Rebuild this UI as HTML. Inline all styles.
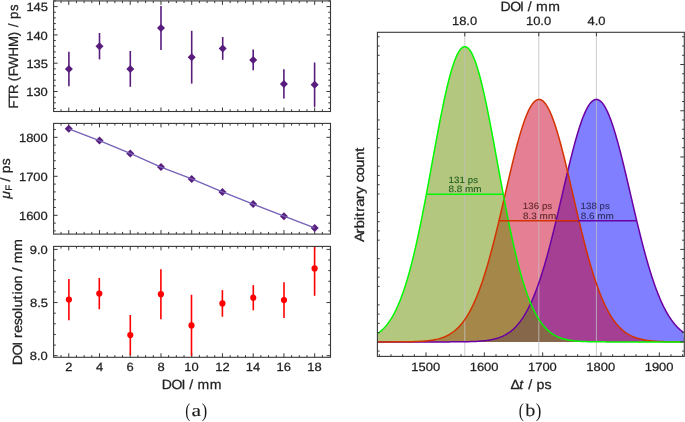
<!DOCTYPE html><html><head><meta charset="utf-8"><style>html,body{margin:0;padding:0;background:#fff;}svg{display:block;will-change:transform;text-rendering:geometricPrecision;font-family:"Liberation Sans",sans-serif;}</style></head><body><svg width="685" height="422" viewBox="0 0 685 422" font-family="Liberation Sans, sans-serif"><rect width="100%" height="100%" fill="#fff"/><path d="M68.75 111.5v-4.0M68.75 0.9v4.0M99.49 111.5v-4.0M99.49 0.9v4.0M130.23 111.5v-4.0M130.23 0.9v4.0M160.97 111.5v-4.0M160.97 0.9v4.0M191.71 111.5v-4.0M191.71 0.9v4.0M222.45 111.5v-4.0M222.45 0.9v4.0M253.19 111.5v-4.0M253.19 0.9v4.0M283.93 111.5v-4.0M283.93 0.9v4.0M314.67 111.5v-4.0M314.67 0.9v4.0M53.6 91.5h4.0M330.5 91.5h-4.0M53.6 63.2h4.0M330.5 63.2h-4.0M53.6 34.9h4.0M330.5 34.9h-4.0M53.6 6.6h4.0M330.5 6.6h-4.0" stroke="#383838" stroke-width="1" fill="none"/><path d="M61.06 111.5v-2.2M61.06 0.9v2.2M76.44 111.5v-2.2M76.44 0.9v2.2M84.12 111.5v-2.2M84.12 0.9v2.2M91.81 111.5v-2.2M91.81 0.9v2.2M107.17 111.5v-2.2M107.17 0.9v2.2M114.86 111.5v-2.2M114.86 0.9v2.2M122.54 111.5v-2.2M122.54 0.9v2.2M137.91 111.5v-2.2M137.91 0.9v2.2M145.6 111.5v-2.2M145.6 0.9v2.2M153.28 111.5v-2.2M153.28 0.9v2.2M168.66 111.5v-2.2M168.66 0.9v2.2M176.34 111.5v-2.2M176.34 0.9v2.2M184.02 111.5v-2.2M184.02 0.9v2.2M199.39 111.5v-2.2M199.39 0.9v2.2M207.08 111.5v-2.2M207.08 0.9v2.2M214.76 111.5v-2.2M214.76 0.9v2.2M230.13 111.5v-2.2M230.13 0.9v2.2M237.82 111.5v-2.2M237.82 0.9v2.2M245.5 111.5v-2.2M245.5 0.9v2.2M260.88 111.5v-2.2M260.88 0.9v2.2M268.56 111.5v-2.2M268.56 0.9v2.2M276.25 111.5v-2.2M276.25 0.9v2.2M291.62 111.5v-2.2M291.62 0.9v2.2M299.3 111.5v-2.2M299.3 0.9v2.2M306.99 111.5v-2.2M306.99 0.9v2.2M322.36 111.5v-2.2M322.36 0.9v2.2M53.6 108.48h2.2M330.5 108.48h-2.2M53.6 102.82h2.2M330.5 102.82h-2.2M53.6 97.16h2.2M330.5 97.16h-2.2M53.6 85.84h2.2M330.5 85.84h-2.2M53.6 80.18h2.2M330.5 80.18h-2.2M53.6 74.52h2.2M330.5 74.52h-2.2M53.6 68.86h2.2M330.5 68.86h-2.2M53.6 57.54h2.2M330.5 57.54h-2.2M53.6 51.88h2.2M330.5 51.88h-2.2M53.6 46.22h2.2M330.5 46.22h-2.2M53.6 40.56h2.2M330.5 40.56h-2.2M53.6 29.24h2.2M330.5 29.24h-2.2M53.6 23.58h2.2M330.5 23.58h-2.2M53.6 17.92h2.2M330.5 17.92h-2.2M53.6 12.26h2.2M330.5 12.26h-2.2M53.6 0.94h2.2M330.5 0.94h-2.2" stroke="#383838" stroke-width="1" fill="none"/>
<text font-size="11.97" fill="#222222" stroke="#222222" stroke-width="0.25" transform="translate(26.19 96.11) scale(1.0796 1)"><tspan x="0 6.66 13.32" y="0">130</tspan></text>
<text font-size="11.97" fill="#222222" stroke="#222222" stroke-width="0.25" transform="translate(26.42 67.81) scale(1.0796 1)"><tspan x="0 6.66 13.32" y="0">135</tspan></text>
<text font-size="11.97" fill="#222222" stroke="#222222" stroke-width="0.25" transform="translate(26.19 39.51) scale(1.0796 1)"><tspan x="0 6.66 13.32" y="0">140</tspan></text>
<text font-size="11.97" fill="#222222" stroke="#222222" stroke-width="0.25" transform="translate(26.42 11.14) scale(1.0796 1)"><tspan x="0 6.66 13.32" y="0">145</tspan></text>
<text font-size="13.35" fill="#222222" stroke="#222222" stroke-width="0.25" transform="translate(17.6 108.6) rotate(-90) scale(0.9894 1)"><tspan x="0 7.33 14.88 23.73 27.78 32.75 40.07 52.66 62.24 73.23 78.2 82.24 86.53 90.58 98.67" y="0">FTR (FWHM) / ps</tspan></text>
<path d="M68.9 51.8V86.2" stroke="#581c7c" stroke-width="1.6"/>
<path d="M99.5 33V59.4" stroke="#581c7c" stroke-width="1.6"/>
<path d="M130.3 51V86.8" stroke="#581c7c" stroke-width="1.6"/>
<path d="M161 5.9V49.9" stroke="#581c7c" stroke-width="1.6"/>
<path d="M191.7 30.8V83.6" stroke="#581c7c" stroke-width="1.6"/>
<path d="M222.7 37V59.8" stroke="#581c7c" stroke-width="1.6"/>
<path d="M253.2 49.5V70.3" stroke="#581c7c" stroke-width="1.6"/>
<path d="M283.9 69.3V98.5" stroke="#581c7c" stroke-width="1.6"/>
<path d="M314.6 62.5V106.9" stroke="#581c7c" stroke-width="1.6"/>
<path d="M68.9 65l4.0 4.0l-4.0 4.0l-4.0 -4.0z" fill="#581c7c"/>
<path d="M99.5 42.2l4.0 4.0l-4.0 4.0l-4.0 -4.0z" fill="#581c7c"/>
<path d="M130.3 64.9l4.0 4.0l-4.0 4.0l-4.0 -4.0z" fill="#581c7c"/>
<path d="M161 23.9l4.0 4.0l-4.0 4.0l-4.0 -4.0z" fill="#581c7c"/>
<path d="M191.7 53.2l4.0 4.0l-4.0 4.0l-4.0 -4.0z" fill="#581c7c"/>
<path d="M222.7 44.4l4.0 4.0l-4.0 4.0l-4.0 -4.0z" fill="#581c7c"/>
<path d="M253.2 55.9l4.0 4.0l-4.0 4.0l-4.0 -4.0z" fill="#581c7c"/>
<path d="M283.9 79.9l4.0 4.0l-4.0 4.0l-4.0 -4.0z" fill="#581c7c"/>
<path d="M314.6 80.7l4.0 4.0l-4.0 4.0l-4.0 -4.0z" fill="#581c7c"/>
<path d="M68.75 234.1v-4.0M68.75 123.4v4.0M99.49 234.1v-4.0M99.49 123.4v4.0M130.23 234.1v-4.0M130.23 123.4v4.0M160.97 234.1v-4.0M160.97 123.4v4.0M191.71 234.1v-4.0M191.71 123.4v4.0M222.45 234.1v-4.0M222.45 123.4v4.0M253.19 234.1v-4.0M253.19 123.4v4.0M283.93 234.1v-4.0M283.93 123.4v4.0M314.67 234.1v-4.0M314.67 123.4v4.0M53.6 215.3h4.0M330.5 215.3h-4.0M53.6 176.3h4.0M330.5 176.3h-4.0M53.6 137.3h4.0M330.5 137.3h-4.0" stroke="#383838" stroke-width="1" fill="none"/><path d="M61.06 234.1v-2.2M61.06 123.4v2.2M76.44 234.1v-2.2M76.44 123.4v2.2M84.12 234.1v-2.2M84.12 123.4v2.2M91.81 234.1v-2.2M91.81 123.4v2.2M107.17 234.1v-2.2M107.17 123.4v2.2M114.86 234.1v-2.2M114.86 123.4v2.2M122.54 234.1v-2.2M122.54 123.4v2.2M137.91 234.1v-2.2M137.91 123.4v2.2M145.6 234.1v-2.2M145.6 123.4v2.2M153.28 234.1v-2.2M153.28 123.4v2.2M168.66 234.1v-2.2M168.66 123.4v2.2M176.34 234.1v-2.2M176.34 123.4v2.2M184.02 234.1v-2.2M184.02 123.4v2.2M199.39 234.1v-2.2M199.39 123.4v2.2M207.08 234.1v-2.2M207.08 123.4v2.2M214.76 234.1v-2.2M214.76 123.4v2.2M230.13 234.1v-2.2M230.13 123.4v2.2M237.82 234.1v-2.2M237.82 123.4v2.2M245.5 234.1v-2.2M245.5 123.4v2.2M260.88 234.1v-2.2M260.88 123.4v2.2M268.56 234.1v-2.2M268.56 123.4v2.2M276.25 234.1v-2.2M276.25 123.4v2.2M291.62 234.1v-2.2M291.62 123.4v2.2M299.3 234.1v-2.2M299.3 123.4v2.2M306.99 234.1v-2.2M306.99 123.4v2.2M322.36 234.1v-2.2M322.36 123.4v2.2M53.6 230.9h2.2M330.5 230.9h-2.2M53.6 223.1h2.2M330.5 223.1h-2.2M53.6 207.5h2.2M330.5 207.5h-2.2M53.6 199.7h2.2M330.5 199.7h-2.2M53.6 191.9h2.2M330.5 191.9h-2.2M53.6 184.1h2.2M330.5 184.1h-2.2M53.6 168.5h2.2M330.5 168.5h-2.2M53.6 160.7h2.2M330.5 160.7h-2.2M53.6 152.9h2.2M330.5 152.9h-2.2M53.6 145.1h2.2M330.5 145.1h-2.2M53.6 129.5h2.2M330.5 129.5h-2.2" stroke="#383838" stroke-width="1" fill="none"/>
<text font-size="11.97" fill="#222222" stroke="#222222" stroke-width="0.25" transform="translate(18.99 219.91) scale(1.0796 1)"><tspan x="0 6.66 13.32 19.98" y="0">1600</tspan></text>
<text font-size="11.97" fill="#222222" stroke="#222222" stroke-width="0.25" transform="translate(18.99 180.91) scale(1.0796 1)"><tspan x="0 6.66 13.32 19.98" y="0">1700</tspan></text>
<text font-size="11.97" fill="#222222" stroke="#222222" stroke-width="0.25" transform="translate(18.99 141.91) scale(1.0796 1)"><tspan x="0 6.66 13.32 19.98" y="0">1800</tspan></text>
<path d="M68.75 124.8l4.0 4.0l-4.0 4.0l-4.0 -4.0z" fill="#581c7c"/>
<path d="M99.49 136.6l4.0 4.0l-4.0 4.0l-4.0 -4.0z" fill="#581c7c"/>
<path d="M130.23 149.4l4.0 4.0l-4.0 4.0l-4.0 -4.0z" fill="#581c7c"/>
<path d="M160.97 163.1l4.0 4.0l-4.0 4.0l-4.0 -4.0z" fill="#581c7c"/>
<path d="M191.71 174.9l4.0 4.0l-4.0 4.0l-4.0 -4.0z" fill="#581c7c"/>
<path d="M222.45 187.9l4.0 4.0l-4.0 4.0l-4.0 -4.0z" fill="#581c7c"/>
<path d="M253.19 200.1l4.0 4.0l-4.0 4.0l-4.0 -4.0z" fill="#581c7c"/>
<path d="M283.93 212.2l4.0 4.0l-4.0 4.0l-4.0 -4.0z" fill="#581c7c"/>
<path d="M314.67 223.9l4.0 4.0l-4.0 4.0l-4.0 -4.0z" fill="#581c7c"/>
<polyline points="68.75,128.8 99.49,140.6 130.23,153.4 160.97,167.1 191.71,178.9 222.45,191.9 253.19,204.1 283.93,216.2 314.67,227.9" fill="none" stroke="#7662b8" stroke-width="1.4"/>
<text font-size="13.35" fill="#222222" stroke="#222222" stroke-width="0.25" transform="translate(10.2 198.7) rotate(-90) scale(1.0433 1)"><tspan x="0" y="0" font-style="italic">μ</tspan><tspan x="7.68" y="2.2" font-size="9.35">F</tspan><tspan x="12.55 16.39 20.45 24.29 31.96" y="0"> / ps</tspan></text>
<path d="M68.75 357.3v-4.0M68.75 246.4v4.0M99.49 357.3v-4.0M99.49 246.4v4.0M130.23 357.3v-4.0M130.23 246.4v4.0M160.97 357.3v-4.0M160.97 246.4v4.0M191.71 357.3v-4.0M191.71 246.4v4.0M222.45 357.3v-4.0M222.45 246.4v4.0M253.19 357.3v-4.0M253.19 246.4v4.0M283.93 357.3v-4.0M283.93 246.4v4.0M314.67 357.3v-4.0M314.67 246.4v4.0M53.6 355.7h4.0M330.5 355.7h-4.0M53.6 302.55h4.0M330.5 302.55h-4.0M53.6 249.4h4.0M330.5 249.4h-4.0" stroke="#383838" stroke-width="1" fill="none"/><path d="M61.06 357.3v-2.2M61.06 246.4v2.2M76.44 357.3v-2.2M76.44 246.4v2.2M84.12 357.3v-2.2M84.12 246.4v2.2M91.81 357.3v-2.2M91.81 246.4v2.2M107.17 357.3v-2.2M107.17 246.4v2.2M114.86 357.3v-2.2M114.86 246.4v2.2M122.54 357.3v-2.2M122.54 246.4v2.2M137.91 357.3v-2.2M137.91 246.4v2.2M145.6 357.3v-2.2M145.6 246.4v2.2M153.28 357.3v-2.2M153.28 246.4v2.2M168.66 357.3v-2.2M168.66 246.4v2.2M176.34 357.3v-2.2M176.34 246.4v2.2M184.02 357.3v-2.2M184.02 246.4v2.2M199.39 357.3v-2.2M199.39 246.4v2.2M207.08 357.3v-2.2M207.08 246.4v2.2M214.76 357.3v-2.2M214.76 246.4v2.2M230.13 357.3v-2.2M230.13 246.4v2.2M237.82 357.3v-2.2M237.82 246.4v2.2M245.5 357.3v-2.2M245.5 246.4v2.2M260.88 357.3v-2.2M260.88 246.4v2.2M268.56 357.3v-2.2M268.56 246.4v2.2M276.25 357.3v-2.2M276.25 246.4v2.2M291.62 357.3v-2.2M291.62 246.4v2.2M299.3 357.3v-2.2M299.3 246.4v2.2M306.99 357.3v-2.2M306.99 246.4v2.2M322.36 357.3v-2.2M322.36 246.4v2.2M53.6 345.07h2.2M330.5 345.07h-2.2M53.6 334.44h2.2M330.5 334.44h-2.2M53.6 323.81h2.2M330.5 323.81h-2.2M53.6 313.18h2.2M330.5 313.18h-2.2M53.6 291.92h2.2M330.5 291.92h-2.2M53.6 281.29h2.2M330.5 281.29h-2.2M53.6 270.66h2.2M330.5 270.66h-2.2M53.6 260.03h2.2M330.5 260.03h-2.2" stroke="#383838" stroke-width="1" fill="none"/>
<text font-size="11.97" fill="#222222" stroke="#222222" stroke-width="0.25" transform="translate(29.78 360.31) scale(1.0797 1)"><tspan x="0 6.66 9.99" y="0">8.0</tspan></text>
<text font-size="11.97" fill="#222222" stroke="#222222" stroke-width="0.25" transform="translate(30.02 307.16) scale(1.0797 1)"><tspan x="0 6.66 9.99" y="0">8.5</tspan></text>
<text font-size="11.97" fill="#222222" stroke="#222222" stroke-width="0.25" transform="translate(29.78 254.01) scale(1.0797 1)"><tspan x="0 6.66 9.99" y="0">9.0</tspan></text>
<text font-size="11.97" fill="#222222" stroke="#222222" stroke-width="0.25" transform="translate(65.31 371.38) scale(1.0796 1)"><tspan x="0" y="0">2</tspan></text>
<text font-size="11.97" fill="#222222" stroke="#222222" stroke-width="0.25" transform="translate(95.94 371.24) scale(1.0796 1)"><tspan x="0" y="0">4</tspan></text>
<text font-size="11.97" fill="#222222" stroke="#222222" stroke-width="0.25" transform="translate(126.6 371.38) scale(1.0796 1)"><tspan x="0" y="0">6</tspan></text>
<text font-size="11.97" fill="#222222" stroke="#222222" stroke-width="0.25" transform="translate(157.38 371.38) scale(1.0796 1)"><tspan x="0" y="0">8</tspan></text>
<text font-size="11.97" fill="#222222" stroke="#222222" stroke-width="0.25" transform="translate(184.27 371.38) scale(1.0796 1)"><tspan x="0 6.66" y="0">10</tspan></text>
<text font-size="11.97" fill="#222222" stroke="#222222" stroke-width="0.25" transform="translate(215.21 371.38) scale(1.0796 1)"><tspan x="0 6.66" y="0">12</tspan></text>
<text font-size="11.97" fill="#222222" stroke="#222222" stroke-width="0.25" transform="translate(245.7 371.24) scale(1.0796 1)"><tspan x="0 6.66" y="0">14</tspan></text>
<text font-size="11.97" fill="#222222" stroke="#222222" stroke-width="0.25" transform="translate(276.48 371.38) scale(1.0796 1)"><tspan x="0 6.66" y="0">16</tspan></text>
<text font-size="11.97" fill="#222222" stroke="#222222" stroke-width="0.25" transform="translate(307.25 371.38) scale(1.0796 1)"><tspan x="0 6.66" y="0">18</tspan></text>
<text font-size="13.35" fill="#222222" stroke="#222222" stroke-width="0.25" transform="translate(21.6 365.28) rotate(-90) scale(1.0673 1)"><tspan x="0 9.09 18.38 21.86 25.62 30.47 37.47 43.62 50.85 54.13 61.61 66.24 69.52 76.74 84.22 87.97 91.95 95.7 107.2" y="0">DOI resolution / mm</tspan></text>
<text font-size="13.35" fill="#222222" stroke="#222222" stroke-width="0.25" transform="translate(161.85 389.35) scale(1.0531 1)"><tspan x="0 9.21 18.63 22.16 25.96 29.99 33.8 45.45" y="0">DOI / mm</tspan></text>
<path d="M68.9 279V320.2" stroke="#ff0000" stroke-width="1.6"/>
<path d="M99.3 278V309.2" stroke="#ff0000" stroke-width="1.6"/>
<path d="M130.3 315V355.2" stroke="#ff0000" stroke-width="1.6"/>
<path d="M160.9 269.2V319.2" stroke="#ff0000" stroke-width="1.6"/>
<path d="M191.5 294.8V356" stroke="#ff0000" stroke-width="1.6"/>
<path d="M222.4 290.1V316.7" stroke="#ff0000" stroke-width="1.6"/>
<path d="M253.3 285.1V310.3" stroke="#ff0000" stroke-width="1.6"/>
<path d="M284 282.3V317.9" stroke="#ff0000" stroke-width="1.6"/>
<path d="M314.6 246.4V295.8" stroke="#ff0000" stroke-width="1.6"/>
<circle cx="68.9" cy="299.6" r="3.1" fill="#ff0000"/>
<circle cx="99.3" cy="293.6" r="3.1" fill="#ff0000"/>
<circle cx="130.3" cy="335.1" r="3.1" fill="#ff0000"/>
<circle cx="160.9" cy="294.2" r="3.1" fill="#ff0000"/>
<circle cx="191.5" cy="325.4" r="3.1" fill="#ff0000"/>
<circle cx="222.4" cy="303.4" r="3.1" fill="#ff0000"/>
<circle cx="253.3" cy="297.7" r="3.1" fill="#ff0000"/>
<circle cx="284" cy="300.1" r="3.1" fill="#ff0000"/>
<circle cx="314.6" cy="268.4" r="3.1" fill="#ff0000"/>
<rect x="53.6" y="0.9" width="276.9" height="110.6" fill="none" stroke="#383838" stroke-width="1.1"/>
<rect x="53.6" y="123.4" width="276.9" height="110.7" fill="none" stroke="#383838" stroke-width="1.1"/>
<rect x="53.6" y="246.4" width="276.9" height="110.9" fill="none" stroke="#383838" stroke-width="1.1"/>
<defs><clipPath id="cr"><rect x="377.4" y="32.3" width="306.9" height="324.1"/></clipPath></defs>
<g clip-path="url(#cr)">
<path d="M377.4 341.9L377.4 341.9L378.4 341.9L379.4 341.9L380.4 341.9L381.4 341.9L382.4 341.9L383.4 341.9L384.4 341.9L385.4 341.9L386.4 341.9L387.4 341.9L388.4 341.9L389.4 341.9L390.4 341.9L391.4 341.9L392.4 341.9L393.4 341.9L394.4 341.9L395.4 341.9L396.4 341.9L397.4 341.9L398.4 341.9L399.4 341.9L400.4 341.9L401.4 341.9L402.4 341.9L403.4 341.9L404.4 341.9L405.4 341.9L406.4 341.9L407.4 341.9L408.4 341.9L409.4 341.9L410.4 341.9L411.4 341.9L412.4 341.9L413.4 341.9L414.4 341.9L415.4 341.9L416.4 341.9L417.4 341.9L418.4 341.9L419.4 341.9L420.4 341.9L421.4 341.9L422.4 341.9L423.4 341.9L424.4 341.9L425.4 341.9L426.4 341.9L427.4 341.9L428.4 341.9L429.4 341.9L430.4 341.9L431.4 341.9L432.4 341.9L433.4 341.9L434.4 341.9L435.4 341.9L436.4 341.9L437.4 341.9L438.4 341.89L439.4 341.89L440.4 341.89L441.4 341.89L442.4 341.89L443.4 341.89L444.4 341.89L445.4 341.89L446.4 341.88L447.4 341.88L448.4 341.88L449.4 341.88L450.4 341.87L451.4 341.87L452.4 341.87L453.4 341.86L454.4 341.86L455.4 341.85L456.4 341.84L457.4 341.84L458.4 341.83L459.4 341.82L460.4 341.81L461.4 341.8L462.4 341.79L463.4 341.77L464.4 341.76L465.4 341.74L466.4 341.72L467.4 341.7L468.4 341.68L469.4 341.65L470.4 341.62L471.4 341.59L472.4 341.56L473.4 341.52L474.4 341.48L475.4 341.43L476.4 341.38L477.4 341.32L478.4 341.26L479.4 341.2L480.4 341.12L481.4 341.04L482.4 340.95L483.4 340.86L484.4 340.75L485.4 340.64L486.4 340.51L487.4 340.38L488.4 340.23L489.4 340.07L490.4 339.9L491.4 339.71L492.4 339.5L493.4 339.28L494.4 339.04L495.4 338.78L496.4 338.5L497.4 338.2L498.4 337.88L499.4 337.53L500.4 337.15L501.4 336.75L502.4 336.32L503.4 335.85L504.4 335.36L505.4 334.82L506.4 334.26L507.4 333.65L508.4 333L509.4 332.31L510.4 331.58L511.4 330.79L512.4 329.96L513.4 329.08L514.4 328.15L515.4 327.16L516.4 326.11L517.4 325L518.4 323.83L519.4 322.59L520.4 321.29L521.4 319.92L522.4 318.47L523.4 316.96L524.4 315.36L525.4 313.69L526.4 311.94L527.4 310.11L528.4 308.2L529.4 306.2L530.4 304.12L531.4 301.94L532.4 299.68L533.4 297.33L534.4 294.89L535.4 292.35L536.4 289.73L537.4 287.01L538.4 284.2L539.4 281.3L540.4 278.3L541.4 275.22L542.4 272.04L543.4 268.78L544.4 265.43L545.4 261.99L546.4 258.47L547.4 254.87L548.4 251.19L549.4 247.44L550.4 243.61L551.4 239.72L552.4 235.76L553.4 231.75L554.4 227.68L555.4 223.56L556.4 219.4L557.4 215.2L558.4 210.96L559.4 206.7L560.4 202.43L561.4 198.13L562.4 193.84L563.4 189.54L564.4 185.26L565.4 180.99L566.4 176.74L567.4 172.53L568.4 168.36L569.4 164.24L570.4 160.18L571.4 156.18L572.4 152.25L573.4 148.41L574.4 144.66L575.4 141L576.4 137.46L577.4 134.03L578.4 130.72L579.4 127.54L580.4 124.5L581.4 121.6L582.4 118.86L583.4 116.28L584.4 113.85L585.4 111.61L586.4 109.53L587.4 107.64L588.4 105.93L589.4 104.42L590.4 103.1L591.4 101.97L592.4 101.05L593.4 100.33L594.4 99.81L595.4 99.5L596.4 99.4L597.4 99.5L598.4 99.81L599.4 100.33L600.4 101.05L601.4 101.97L602.4 103.1L603.4 104.42L604.4 105.93L605.4 107.64L606.4 109.53L607.4 111.61L608.4 113.85L609.4 116.28L610.4 118.86L611.4 121.6L612.4 124.5L613.4 127.54L614.4 130.72L615.4 134.03L616.4 137.46L617.4 141L618.4 144.66L619.4 148.41L620.4 152.25L621.4 156.18L622.4 160.18L623.4 164.24L624.4 168.36L625.4 172.53L626.4 176.74L627.4 180.99L628.4 185.26L629.4 189.54L630.4 193.84L631.4 198.13L632.4 202.43L633.4 206.7L634.4 210.96L635.4 215.2L636.4 219.4L637.4 223.56L638.4 227.68L639.4 231.75L640.4 235.76L641.4 239.72L642.4 243.61L643.4 247.44L644.4 251.19L645.4 254.87L646.4 258.47L647.4 261.99L648.4 265.43L649.4 268.78L650.4 272.04L651.4 275.22L652.4 278.3L653.4 281.3L654.4 284.2L655.4 287.01L656.4 289.73L657.4 292.35L658.4 294.89L659.4 297.33L660.4 299.68L661.4 301.94L662.4 304.12L663.4 306.2L664.4 308.2L665.4 310.11L666.4 311.94L667.4 313.69L668.4 315.36L669.4 316.96L670.4 318.47L671.4 319.92L672.4 321.29L673.4 322.59L674.4 323.83L675.4 325L676.4 326.11L677.4 327.16L678.4 328.15L679.4 329.08L680.4 329.96L681.4 330.79L682.4 331.58L683.4 332.31L684.3 341.9Z" fill="rgba(0,0,255,0.5)"/>
<path d="M377.4 341.9L377.4 341.9L378.4 341.9L379.4 341.9L380.4 341.9L381.4 341.89L382.4 341.89L383.4 341.89L384.4 341.89L385.4 341.89L386.4 341.89L387.4 341.89L388.4 341.89L389.4 341.89L390.4 341.88L391.4 341.88L392.4 341.88L393.4 341.88L394.4 341.87L395.4 341.87L396.4 341.86L397.4 341.86L398.4 341.85L399.4 341.85L400.4 341.84L401.4 341.83L402.4 341.83L403.4 341.82L404.4 341.81L405.4 341.79L406.4 341.78L407.4 341.77L408.4 341.75L409.4 341.73L410.4 341.71L411.4 341.69L412.4 341.67L413.4 341.64L414.4 341.61L415.4 341.58L416.4 341.54L417.4 341.5L418.4 341.46L419.4 341.41L420.4 341.35L421.4 341.29L422.4 341.23L423.4 341.16L424.4 341.08L425.4 340.99L426.4 340.9L427.4 340.8L428.4 340.69L429.4 340.57L430.4 340.44L431.4 340.29L432.4 340.14L433.4 339.97L434.4 339.78L435.4 339.58L436.4 339.36L437.4 339.13L438.4 338.88L439.4 338.6L440.4 338.31L441.4 337.99L442.4 337.64L443.4 337.27L444.4 336.88L445.4 336.45L446.4 335.99L447.4 335.5L448.4 334.98L449.4 334.41L450.4 333.81L451.4 333.17L452.4 332.49L453.4 331.76L454.4 330.98L455.4 330.16L456.4 329.28L457.4 328.35L458.4 327.36L459.4 326.32L460.4 325.21L461.4 324.05L462.4 322.81L463.4 321.51L464.4 320.14L465.4 318.7L466.4 317.18L467.4 315.59L468.4 313.91L469.4 312.16L470.4 310.33L471.4 308.41L472.4 306.4L473.4 304.31L474.4 302.13L475.4 299.86L476.4 297.5L477.4 295.04L478.4 292.49L479.4 289.85L480.4 287.12L481.4 284.29L482.4 281.37L483.4 278.35L484.4 275.25L485.4 272.05L486.4 268.76L487.4 265.38L488.4 261.92L489.4 258.37L490.4 254.74L491.4 251.03L492.4 247.24L493.4 243.39L494.4 239.46L495.4 235.47L496.4 231.42L497.4 227.32L498.4 223.16L499.4 218.97L500.4 214.73L501.4 210.46L502.4 206.17L503.4 201.86L504.4 197.53L505.4 193.2L506.4 188.88L507.4 184.56L508.4 180.26L509.4 175.99L510.4 171.76L511.4 167.56L512.4 163.42L513.4 159.34L514.4 155.32L515.4 151.39L516.4 147.54L517.4 143.78L518.4 140.12L519.4 136.58L520.4 133.15L521.4 129.85L522.4 126.69L523.4 123.66L524.4 120.79L525.4 118.07L526.4 115.52L527.4 113.13L528.4 110.92L529.4 108.89L530.4 107.05L531.4 105.39L532.4 103.93L533.4 102.67L534.4 101.61L535.4 100.76L536.4 100.11L537.4 99.67L538.4 99.44L539.4 99.42L540.4 99.61L541.4 100L542.4 100.61L543.4 101.43L544.4 102.44L545.4 103.67L546.4 105.09L547.4 106.7L548.4 108.51L549.4 110.5L550.4 112.68L551.4 115.03L552.4 117.55L553.4 120.23L554.4 123.08L555.4 126.07L556.4 129.21L557.4 132.48L558.4 135.88L559.4 139.41L560.4 143.04L561.4 146.78L562.4 150.61L563.4 154.53L564.4 158.53L565.4 162.6L566.4 166.73L567.4 170.91L568.4 175.14L569.4 179.41L570.4 183.7L571.4 188.01L572.4 192.34L573.4 196.67L574.4 200.99L575.4 205.31L576.4 209.6L577.4 213.88L578.4 218.12L579.4 222.33L580.4 226.49L581.4 230.61L582.4 234.67L583.4 238.67L584.4 242.61L585.4 246.48L586.4 250.28L587.4 254L588.4 257.65L589.4 261.21L590.4 264.7L591.4 268.09L592.4 271.4L593.4 274.61L594.4 277.74L595.4 280.77L596.4 283.71L597.4 286.56L598.4 289.31L599.4 291.97L600.4 294.54L601.4 297.01L602.4 299.39L603.4 301.68L604.4 303.88L605.4 305.99L606.4 308.01L607.4 309.95L608.4 311.8L609.4 313.57L610.4 315.26L611.4 316.87L612.4 318.4L613.4 319.86L614.4 321.24L615.4 322.56L616.4 323.8L617.4 324.98L618.4 326.1L619.4 327.16L620.4 328.16L621.4 329.1L622.4 329.99L623.4 330.82L624.4 331.61L625.4 332.35L626.4 333.04L627.4 333.69L628.4 334.3L629.4 334.87L630.4 335.4L631.4 335.9L632.4 336.36L633.4 336.79L634.4 337.2L635.4 337.57L636.4 337.92L637.4 338.24L638.4 338.54L639.4 338.82L640.4 339.08L641.4 339.32L642.4 339.54L643.4 339.74L644.4 339.93L645.4 340.1L646.4 340.26L647.4 340.41L648.4 340.54L649.4 340.67L650.4 340.78L651.4 340.88L652.4 340.98L653.4 341.06L654.4 341.14L655.4 341.22L656.4 341.28L657.4 341.34L658.4 341.4L659.4 341.45L660.4 341.49L661.4 341.53L662.4 341.57L663.4 341.6L664.4 341.63L665.4 341.66L666.4 341.69L667.4 341.71L668.4 341.73L669.4 341.75L670.4 341.76L671.4 341.78L672.4 341.79L673.4 341.8L674.4 341.81L675.4 341.82L676.4 341.83L677.4 341.84L678.4 341.85L679.4 341.85L680.4 341.86L681.4 341.86L682.4 341.87L683.4 341.87L684.3 341.9Z" fill="rgba(203,0,41,0.5)"/>
<path d="M377.4 341.9L377.4 333.68L378.4 332.99L379.4 332.24L380.4 331.44L381.4 330.58L382.4 329.67L383.4 328.69L384.4 327.65L385.4 326.54L386.4 325.36L387.4 324.11L388.4 322.77L389.4 321.36L390.4 319.87L391.4 318.29L392.4 316.62L393.4 314.86L394.4 313L395.4 311.04L396.4 308.98L397.4 306.81L398.4 304.54L399.4 302.16L400.4 299.67L401.4 297.06L402.4 294.34L403.4 291.49L404.4 288.53L405.4 285.45L406.4 282.24L407.4 278.91L408.4 275.46L409.4 271.89L410.4 268.19L411.4 264.37L412.4 260.42L413.4 256.36L414.4 252.18L415.4 247.88L416.4 243.47L417.4 238.95L418.4 234.32L419.4 229.59L420.4 224.76L421.4 219.84L422.4 214.83L423.4 209.73L424.4 204.57L425.4 199.33L426.4 194.03L427.4 188.68L428.4 183.29L429.4 177.86L430.4 172.4L431.4 166.93L432.4 161.45L433.4 155.97L434.4 150.5L435.4 145.06L436.4 139.65L437.4 134.29L438.4 128.99L439.4 123.75L440.4 118.6L441.4 113.54L442.4 108.58L443.4 103.74L444.4 99.03L445.4 94.45L446.4 90.03L447.4 85.77L448.4 81.67L449.4 77.76L450.4 74.05L451.4 70.53L452.4 67.23L453.4 64.15L454.4 61.3L455.4 58.68L456.4 56.31L457.4 54.18L458.4 52.31L459.4 50.71L460.4 49.37L461.4 48.3L462.4 47.5L463.4 46.97L464.4 46.72L465.4 46.75L466.4 47.05L467.4 47.63L468.4 48.49L469.4 49.61L470.4 51.01L471.4 52.67L472.4 54.59L473.4 56.76L474.4 59.18L475.4 61.85L476.4 64.75L477.4 67.88L478.4 71.22L479.4 74.78L480.4 78.53L481.4 82.48L482.4 86.6L483.4 90.9L484.4 95.36L485.4 99.96L486.4 104.7L487.4 109.56L488.4 114.54L489.4 119.62L490.4 124.79L491.4 130.04L492.4 135.36L493.4 140.73L494.4 146.14L495.4 151.59L496.4 157.06L497.4 162.54L498.4 168.02L499.4 173.5L500.4 178.95L501.4 184.37L502.4 189.76L503.4 195.1L504.4 200.38L505.4 205.61L506.4 210.76L507.4 215.83L508.4 220.83L509.4 225.73L510.4 230.54L511.4 235.25L512.4 239.86L513.4 244.36L514.4 248.75L515.4 253.02L516.4 257.18L517.4 261.22L518.4 265.14L519.4 268.94L520.4 272.61L521.4 276.16L522.4 279.59L523.4 282.89L524.4 286.07L525.4 289.13L526.4 292.07L527.4 294.89L528.4 297.59L529.4 300.18L530.4 302.65L531.4 305.01L532.4 307.26L533.4 309.4L534.4 311.44L535.4 313.38L536.4 315.22L537.4 316.96L538.4 318.61L539.4 320.18L540.4 321.65L541.4 323.05L542.4 324.36L543.4 325.6L544.4 326.77L545.4 327.86L546.4 328.89L547.4 329.85L548.4 330.76L549.4 331.6L550.4 332.39L551.4 333.13L552.4 333.82L553.4 334.46L554.4 335.05L555.4 335.61L556.4 336.12L557.4 336.6L558.4 337.04L559.4 337.45L560.4 337.83L561.4 338.18L562.4 338.51L563.4 338.81L564.4 339.08L565.4 339.33L566.4 339.57L567.4 339.78L568.4 339.97L569.4 340.15L570.4 340.32L571.4 340.47L572.4 340.6L573.4 340.73L574.4 340.84L575.4 340.95L576.4 341.04L577.4 341.13L578.4 341.2L579.4 341.27L580.4 341.34L581.4 341.4L582.4 341.45L583.4 341.5L584.4 341.54L585.4 341.58L586.4 341.61L587.4 341.64L588.4 341.67L589.4 341.7L590.4 341.72L591.4 341.74L592.4 341.76L593.4 341.77L594.4 341.79L595.4 341.8L596.4 341.81L597.4 341.82L598.4 341.83L599.4 341.84L600.4 341.85L601.4 341.85L602.4 341.86L603.4 341.86L604.4 341.87L605.4 341.87L606.4 341.88L607.4 341.88L608.4 341.88L609.4 341.88L610.4 341.89L611.4 341.89L612.4 341.89L613.4 341.89L614.4 341.89L615.4 341.89L616.4 341.89L617.4 341.89L618.4 341.9L619.4 341.9L620.4 341.9L621.4 341.9L622.4 341.9L623.4 341.9L624.4 341.9L625.4 341.9L626.4 341.9L627.4 341.9L628.4 341.9L629.4 341.9L630.4 341.9L631.4 341.9L632.4 341.9L633.4 341.9L634.4 341.9L635.4 341.9L636.4 341.9L637.4 341.9L638.4 341.9L639.4 341.9L640.4 341.9L641.4 341.9L642.4 341.9L643.4 341.9L644.4 341.9L645.4 341.9L646.4 341.9L647.4 341.9L648.4 341.9L649.4 341.9L650.4 341.9L651.4 341.9L652.4 341.9L653.4 341.9L654.4 341.9L655.4 341.9L656.4 341.9L657.4 341.9L658.4 341.9L659.4 341.9L660.4 341.9L661.4 341.9L662.4 341.9L663.4 341.9L664.4 341.9L665.4 341.9L666.4 341.9L667.4 341.9L668.4 341.9L669.4 341.9L670.4 341.9L671.4 341.9L672.4 341.9L673.4 341.9L674.4 341.9L675.4 341.9L676.4 341.9L677.4 341.9L678.4 341.9L679.4 341.9L680.4 341.9L681.4 341.9L682.4 341.9L683.4 341.9L684.3 341.9Z" fill="rgba(103,143,0,0.5)"/>
<path d="M464.8 32.3V356.4" stroke="#c0c0c0" stroke-opacity="0.8" stroke-width="1"/>
<path d="M538.8 32.3V356.4" stroke="#c0c0c0" stroke-opacity="0.8" stroke-width="1"/>
<path d="M596.4 32.3V356.4" stroke="#c0c0c0" stroke-opacity="0.8" stroke-width="1"/>
<path d="M377.4 341.9 L378.4 341.9 L379.4 341.9 L380.4 341.9 L381.4 341.9 L382.4 341.9 L383.4 341.9 L384.4 341.9 L385.4 341.9 L386.4 341.9 L387.4 341.9 L388.4 341.9 L389.4 341.9 L390.4 341.9 L391.4 341.9 L392.4 341.9 L393.4 341.9 L394.4 341.9 L395.4 341.9 L396.4 341.9 L397.4 341.9 L398.4 341.9 L399.4 341.9 L400.4 341.9 L401.4 341.9 L402.4 341.9 L403.4 341.9 L404.4 341.9 L405.4 341.9 L406.4 341.9 L407.4 341.9 L408.4 341.9 L409.4 341.9 L410.4 341.9 L411.4 341.9 L412.4 341.9 L413.4 341.9 L414.4 341.9 L415.4 341.9 L416.4 341.9 L417.4 341.9 L418.4 341.9 L419.4 341.9 L420.4 341.9 L421.4 341.9 L422.4 341.9 L423.4 341.9 L424.4 341.9 L425.4 341.9 L426.4 341.9 L427.4 341.9 L428.4 341.9 L429.4 341.9 L430.4 341.9 L431.4 341.9 L432.4 341.9 L433.4 341.9 L434.4 341.9 L435.4 341.9 L436.4 341.9 L437.4 341.9 L438.4 341.89 L439.4 341.89 L440.4 341.89 L441.4 341.89 L442.4 341.89 L443.4 341.89 L444.4 341.89 L445.4 341.89 L446.4 341.88 L447.4 341.88 L448.4 341.88 L449.4 341.88 L450.4 341.87 L451.4 341.87 L452.4 341.87 L453.4 341.86 L454.4 341.86 L455.4 341.85 L456.4 341.84 L457.4 341.84 L458.4 341.83 L459.4 341.82 L460.4 341.81 L461.4 341.8 L462.4 341.79 L463.4 341.77 L464.4 341.76 L465.4 341.74 L466.4 341.72 L467.4 341.7 L468.4 341.68 L469.4 341.65 L470.4 341.62 L471.4 341.59 L472.4 341.56 L473.4 341.52 L474.4 341.48 L475.4 341.43 L476.4 341.38 L477.4 341.32 L478.4 341.26 L479.4 341.2 L480.4 341.12 L481.4 341.04 L482.4 340.95 L483.4 340.86 L484.4 340.75 L485.4 340.64 L486.4 340.51 L487.4 340.38 L488.4 340.23 L489.4 340.07 L490.4 339.9 L491.4 339.71 L492.4 339.5 L493.4 339.28 L494.4 339.04 L495.4 338.78 L496.4 338.5 L497.4 338.2 L498.4 337.88 L499.4 337.53 L500.4 337.15 L501.4 336.75 L502.4 336.32 L503.4 335.85 L504.4 335.36 L505.4 334.82 L506.4 334.26 L507.4 333.65 L508.4 333 L509.4 332.31 L510.4 331.58 L511.4 330.79 L512.4 329.96 L513.4 329.08 L514.4 328.15 L515.4 327.16 L516.4 326.11 L517.4 325 L518.4 323.83 L519.4 322.59 L520.4 321.29 L521.4 319.92 L522.4 318.47 L523.4 316.96 L524.4 315.36 L525.4 313.69 L526.4 311.94 L527.4 310.11 L528.4 308.2 L529.4 306.2 L530.4 304.12 L531.4 301.94 L532.4 299.68 L533.4 297.33 L534.4 294.89 L535.4 292.35 L536.4 289.73 L537.4 287.01 L538.4 284.2 L539.4 281.3 L540.4 278.3 L541.4 275.22 L542.4 272.04 L543.4 268.78 L544.4 265.43 L545.4 261.99 L546.4 258.47 L547.4 254.87 L548.4 251.19 L549.4 247.44 L550.4 243.61 L551.4 239.72 L552.4 235.76 L553.4 231.75 L554.4 227.68 L555.4 223.56 L556.4 219.4 L557.4 215.2 L558.4 210.96 L559.4 206.7 L560.4 202.43 L561.4 198.13 L562.4 193.84 L563.4 189.54 L564.4 185.26 L565.4 180.99 L566.4 176.74 L567.4 172.53 L568.4 168.36 L569.4 164.24 L570.4 160.18 L571.4 156.18 L572.4 152.25 L573.4 148.41 L574.4 144.66 L575.4 141 L576.4 137.46 L577.4 134.03 L578.4 130.72 L579.4 127.54 L580.4 124.5 L581.4 121.6 L582.4 118.86 L583.4 116.28 L584.4 113.85 L585.4 111.61 L586.4 109.53 L587.4 107.64 L588.4 105.93 L589.4 104.42 L590.4 103.1 L591.4 101.97 L592.4 101.05 L593.4 100.33 L594.4 99.81 L595.4 99.5 L596.4 99.4 L597.4 99.5 L598.4 99.81 L599.4 100.33 L600.4 101.05 L601.4 101.97 L602.4 103.1 L603.4 104.42 L604.4 105.93 L605.4 107.64 L606.4 109.53 L607.4 111.61 L608.4 113.85 L609.4 116.28 L610.4 118.86 L611.4 121.6 L612.4 124.5 L613.4 127.54 L614.4 130.72 L615.4 134.03 L616.4 137.46 L617.4 141 L618.4 144.66 L619.4 148.41 L620.4 152.25 L621.4 156.18 L622.4 160.18 L623.4 164.24 L624.4 168.36 L625.4 172.53 L626.4 176.74 L627.4 180.99 L628.4 185.26 L629.4 189.54 L630.4 193.84 L631.4 198.13 L632.4 202.43 L633.4 206.7 L634.4 210.96 L635.4 215.2 L636.4 219.4 L637.4 223.56 L638.4 227.68 L639.4 231.75 L640.4 235.76 L641.4 239.72 L642.4 243.61 L643.4 247.44 L644.4 251.19 L645.4 254.87 L646.4 258.47 L647.4 261.99 L648.4 265.43 L649.4 268.78 L650.4 272.04 L651.4 275.22 L652.4 278.3 L653.4 281.3 L654.4 284.2 L655.4 287.01 L656.4 289.73 L657.4 292.35 L658.4 294.89 L659.4 297.33 L660.4 299.68 L661.4 301.94 L662.4 304.12 L663.4 306.2 L664.4 308.2 L665.4 310.11 L666.4 311.94 L667.4 313.69 L668.4 315.36 L669.4 316.96 L670.4 318.47 L671.4 319.92 L672.4 321.29 L673.4 322.59 L674.4 323.83 L675.4 325 L676.4 326.11 L677.4 327.16 L678.4 328.15 L679.4 329.08 L680.4 329.96 L681.4 330.79 L682.4 331.58 L683.4 332.31" fill="none" stroke="#6b00a2" stroke-width="1.5" stroke-linejoin="round"/>
<path d="M377.4 341.9 L378.4 341.9 L379.4 341.9 L380.4 341.9 L381.4 341.89 L382.4 341.89 L383.4 341.89 L384.4 341.89 L385.4 341.89 L386.4 341.89 L387.4 341.89 L388.4 341.89 L389.4 341.89 L390.4 341.88 L391.4 341.88 L392.4 341.88 L393.4 341.88 L394.4 341.87 L395.4 341.87 L396.4 341.86 L397.4 341.86 L398.4 341.85 L399.4 341.85 L400.4 341.84 L401.4 341.83 L402.4 341.83 L403.4 341.82 L404.4 341.81 L405.4 341.79 L406.4 341.78 L407.4 341.77 L408.4 341.75 L409.4 341.73 L410.4 341.71 L411.4 341.69 L412.4 341.67 L413.4 341.64 L414.4 341.61 L415.4 341.58 L416.4 341.54 L417.4 341.5 L418.4 341.46 L419.4 341.41 L420.4 341.35 L421.4 341.29 L422.4 341.23 L423.4 341.16 L424.4 341.08 L425.4 340.99 L426.4 340.9 L427.4 340.8 L428.4 340.69 L429.4 340.57 L430.4 340.44 L431.4 340.29 L432.4 340.14 L433.4 339.97 L434.4 339.78 L435.4 339.58 L436.4 339.36 L437.4 339.13 L438.4 338.88 L439.4 338.6 L440.4 338.31 L441.4 337.99 L442.4 337.64 L443.4 337.27 L444.4 336.88 L445.4 336.45 L446.4 335.99 L447.4 335.5 L448.4 334.98 L449.4 334.41 L450.4 333.81 L451.4 333.17 L452.4 332.49 L453.4 331.76 L454.4 330.98 L455.4 330.16 L456.4 329.28 L457.4 328.35 L458.4 327.36 L459.4 326.32 L460.4 325.21 L461.4 324.05 L462.4 322.81 L463.4 321.51 L464.4 320.14 L465.4 318.7 L466.4 317.18 L467.4 315.59 L468.4 313.91 L469.4 312.16 L470.4 310.33 L471.4 308.41 L472.4 306.4 L473.4 304.31 L474.4 302.13 L475.4 299.86 L476.4 297.5 L477.4 295.04 L478.4 292.49 L479.4 289.85 L480.4 287.12 L481.4 284.29 L482.4 281.37 L483.4 278.35 L484.4 275.25 L485.4 272.05 L486.4 268.76 L487.4 265.38 L488.4 261.92 L489.4 258.37 L490.4 254.74 L491.4 251.03 L492.4 247.24 L493.4 243.39 L494.4 239.46 L495.4 235.47 L496.4 231.42 L497.4 227.32 L498.4 223.16 L499.4 218.97 L500.4 214.73 L501.4 210.46 L502.4 206.17 L503.4 201.86 L504.4 197.53 L505.4 193.2 L506.4 188.88 L507.4 184.56 L508.4 180.26 L509.4 175.99 L510.4 171.76 L511.4 167.56 L512.4 163.42 L513.4 159.34 L514.4 155.32 L515.4 151.39 L516.4 147.54 L517.4 143.78 L518.4 140.12 L519.4 136.58 L520.4 133.15 L521.4 129.85 L522.4 126.69 L523.4 123.66 L524.4 120.79 L525.4 118.07 L526.4 115.52 L527.4 113.13 L528.4 110.92 L529.4 108.89 L530.4 107.05 L531.4 105.39 L532.4 103.93 L533.4 102.67 L534.4 101.61 L535.4 100.76 L536.4 100.11 L537.4 99.67 L538.4 99.44 L539.4 99.42 L540.4 99.61 L541.4 100 L542.4 100.61 L543.4 101.43 L544.4 102.44 L545.4 103.67 L546.4 105.09 L547.4 106.7 L548.4 108.51 L549.4 110.5 L550.4 112.68 L551.4 115.03 L552.4 117.55 L553.4 120.23 L554.4 123.08 L555.4 126.07 L556.4 129.21 L557.4 132.48 L558.4 135.88 L559.4 139.41 L560.4 143.04 L561.4 146.78 L562.4 150.61 L563.4 154.53 L564.4 158.53 L565.4 162.6 L566.4 166.73 L567.4 170.91 L568.4 175.14 L569.4 179.41 L570.4 183.7 L571.4 188.01 L572.4 192.34 L573.4 196.67 L574.4 200.99 L575.4 205.31 L576.4 209.6 L577.4 213.88 L578.4 218.12 L579.4 222.33 L580.4 226.49 L581.4 230.61 L582.4 234.67 L583.4 238.67 L584.4 242.61 L585.4 246.48 L586.4 250.28 L587.4 254 L588.4 257.65 L589.4 261.21 L590.4 264.7 L591.4 268.09 L592.4 271.4 L593.4 274.61 L594.4 277.74 L595.4 280.77 L596.4 283.71 L597.4 286.56 L598.4 289.31 L599.4 291.97 L600.4 294.54 L601.4 297.01 L602.4 299.39 L603.4 301.68 L604.4 303.88 L605.4 305.99 L606.4 308.01 L607.4 309.95 L608.4 311.8 L609.4 313.57 L610.4 315.26 L611.4 316.87 L612.4 318.4 L613.4 319.86 L614.4 321.24 L615.4 322.56 L616.4 323.8 L617.4 324.98 L618.4 326.1 L619.4 327.16 L620.4 328.16 L621.4 329.1 L622.4 329.99 L623.4 330.82 L624.4 331.61 L625.4 332.35 L626.4 333.04 L627.4 333.69 L628.4 334.3 L629.4 334.87 L630.4 335.4 L631.4 335.9 L632.4 336.36 L633.4 336.79 L634.4 337.2 L635.4 337.57 L636.4 337.92 L637.4 338.24 L638.4 338.54 L639.4 338.82 L640.4 339.08 L641.4 339.32 L642.4 339.54 L643.4 339.74 L644.4 339.93 L645.4 340.1 L646.4 340.26 L647.4 340.41 L648.4 340.54 L649.4 340.67 L650.4 340.78 L651.4 340.88 L652.4 340.98 L653.4 341.06 L654.4 341.14 L655.4 341.22 L656.4 341.28 L657.4 341.34 L658.4 341.4 L659.4 341.45 L660.4 341.49 L661.4 341.53 L662.4 341.57 L663.4 341.6 L664.4 341.63 L665.4 341.66 L666.4 341.69 L667.4 341.71 L668.4 341.73 L669.4 341.75 L670.4 341.76 L671.4 341.78 L672.4 341.79 L673.4 341.8 L674.4 341.81 L675.4 341.82 L676.4 341.83 L677.4 341.84 L678.4 341.85 L679.4 341.85 L680.4 341.86 L681.4 341.86 L682.4 341.87 L683.4 341.87" fill="none" stroke="#d43300" stroke-width="1.5" stroke-linejoin="round"/>
<path d="M377.4 333.68 L378.4 332.99 L379.4 332.24 L380.4 331.44 L381.4 330.58 L382.4 329.67 L383.4 328.69 L384.4 327.65 L385.4 326.54 L386.4 325.36 L387.4 324.11 L388.4 322.77 L389.4 321.36 L390.4 319.87 L391.4 318.29 L392.4 316.62 L393.4 314.86 L394.4 313 L395.4 311.04 L396.4 308.98 L397.4 306.81 L398.4 304.54 L399.4 302.16 L400.4 299.67 L401.4 297.06 L402.4 294.34 L403.4 291.49 L404.4 288.53 L405.4 285.45 L406.4 282.24 L407.4 278.91 L408.4 275.46 L409.4 271.89 L410.4 268.19 L411.4 264.37 L412.4 260.42 L413.4 256.36 L414.4 252.18 L415.4 247.88 L416.4 243.47 L417.4 238.95 L418.4 234.32 L419.4 229.59 L420.4 224.76 L421.4 219.84 L422.4 214.83 L423.4 209.73 L424.4 204.57 L425.4 199.33 L426.4 194.03 L427.4 188.68 L428.4 183.29 L429.4 177.86 L430.4 172.4 L431.4 166.93 L432.4 161.45 L433.4 155.97 L434.4 150.5 L435.4 145.06 L436.4 139.65 L437.4 134.29 L438.4 128.99 L439.4 123.75 L440.4 118.6 L441.4 113.54 L442.4 108.58 L443.4 103.74 L444.4 99.03 L445.4 94.45 L446.4 90.03 L447.4 85.77 L448.4 81.67 L449.4 77.76 L450.4 74.05 L451.4 70.53 L452.4 67.23 L453.4 64.15 L454.4 61.3 L455.4 58.68 L456.4 56.31 L457.4 54.18 L458.4 52.31 L459.4 50.71 L460.4 49.37 L461.4 48.3 L462.4 47.5 L463.4 46.97 L464.4 46.72 L465.4 46.75 L466.4 47.05 L467.4 47.63 L468.4 48.49 L469.4 49.61 L470.4 51.01 L471.4 52.67 L472.4 54.59 L473.4 56.76 L474.4 59.18 L475.4 61.85 L476.4 64.75 L477.4 67.88 L478.4 71.22 L479.4 74.78 L480.4 78.53 L481.4 82.48 L482.4 86.6 L483.4 90.9 L484.4 95.36 L485.4 99.96 L486.4 104.7 L487.4 109.56 L488.4 114.54 L489.4 119.62 L490.4 124.79 L491.4 130.04 L492.4 135.36 L493.4 140.73 L494.4 146.14 L495.4 151.59 L496.4 157.06 L497.4 162.54 L498.4 168.02 L499.4 173.5 L500.4 178.95 L501.4 184.37 L502.4 189.76 L503.4 195.1 L504.4 200.38 L505.4 205.61 L506.4 210.76 L507.4 215.83 L508.4 220.83 L509.4 225.73 L510.4 230.54 L511.4 235.25 L512.4 239.86 L513.4 244.36 L514.4 248.75 L515.4 253.02 L516.4 257.18 L517.4 261.22 L518.4 265.14 L519.4 268.94 L520.4 272.61 L521.4 276.16 L522.4 279.59 L523.4 282.89 L524.4 286.07 L525.4 289.13 L526.4 292.07 L527.4 294.89 L528.4 297.59 L529.4 300.18 L530.4 302.65 L531.4 305.01 L532.4 307.26 L533.4 309.4 L534.4 311.44 L535.4 313.38 L536.4 315.22 L537.4 316.96 L538.4 318.61 L539.4 320.18 L540.4 321.65 L541.4 323.05 L542.4 324.36 L543.4 325.6 L544.4 326.77 L545.4 327.86 L546.4 328.89 L547.4 329.85 L548.4 330.76 L549.4 331.6 L550.4 332.39 L551.4 333.13 L552.4 333.82 L553.4 334.46 L554.4 335.05 L555.4 335.61 L556.4 336.12 L557.4 336.6 L558.4 337.04 L559.4 337.45 L560.4 337.83 L561.4 338.18 L562.4 338.51 L563.4 338.81 L564.4 339.08 L565.4 339.33 L566.4 339.57 L567.4 339.78 L568.4 339.97 L569.4 340.15 L570.4 340.32 L571.4 340.47 L572.4 340.6 L573.4 340.73 L574.4 340.84 L575.4 340.95 L576.4 341.04 L577.4 341.13 L578.4 341.2 L579.4 341.27 L580.4 341.34 L581.4 341.4 L582.4 341.45 L583.4 341.5 L584.4 341.54 L585.4 341.58 L586.4 341.61 L587.4 341.64 L588.4 341.67 L589.4 341.7 L590.4 341.72 L591.4 341.74 L592.4 341.76 L593.4 341.77 L594.4 341.79 L595.4 341.8 L596.4 341.81 L597.4 341.82 L598.4 341.83 L599.4 341.84 L600.4 341.85 L601.4 341.85 L602.4 341.86 L603.4 341.86 L604.4 341.87 L605.4 341.87 L606.4 341.88 L607.4 341.88 L608.4 341.88 L609.4 341.88 L610.4 341.89 L611.4 341.89 L612.4 341.89 L613.4 341.89 L614.4 341.89 L615.4 341.89 L616.4 341.89 L617.4 341.89 L618.4 341.9 L619.4 341.9 L620.4 341.9 L621.4 341.9 L622.4 341.9 L623.4 341.9 L624.4 341.9 L625.4 341.9 L626.4 341.9 L627.4 341.9 L628.4 341.9 L629.4 341.9 L630.4 341.9 L631.4 341.9 L632.4 341.9 L633.4 341.9 L634.4 341.9 L635.4 341.9 L636.4 341.9 L637.4 341.9 L638.4 341.9 L639.4 341.9 L640.4 341.9 L641.4 341.9 L642.4 341.9 L643.4 341.9 L644.4 341.9 L645.4 341.9 L646.4 341.9 L647.4 341.9 L648.4 341.9 L649.4 341.9 L650.4 341.9 L651.4 341.9 L652.4 341.9 L653.4 341.9 L654.4 341.9 L655.4 341.9 L656.4 341.9 L657.4 341.9 L658.4 341.9 L659.4 341.9 L660.4 341.9 L661.4 341.9 L662.4 341.9 L663.4 341.9 L664.4 341.9 L665.4 341.9 L666.4 341.9 L667.4 341.9 L668.4 341.9 L669.4 341.9 L670.4 341.9 L671.4 341.9 L672.4 341.9 L673.4 341.9 L674.4 341.9 L675.4 341.9 L676.4 341.9 L677.4 341.9 L678.4 341.9 L679.4 341.9 L680.4 341.9 L681.4 341.9 L682.4 341.9 L683.4 341.9" fill="none" stroke="#00f800" stroke-width="1.5" stroke-linejoin="round"/>
<path d="M555.7 220.65H636.3" stroke="#6b00a2" stroke-width="1.5"/>
<path d="M499.2 220.65H578" stroke="#d43300" stroke-width="1.5"/>
<path d="M426.4 194.3H503.3" stroke="#00f800" stroke-width="1.5"/>
</g>
<text font-size="9.11" fill="#1d5c1d" stroke="#1d5c1d" stroke-width="0.1" transform="translate(448.55 183.48) scale(1.0632 1)"><tspan x="0 5.15 10.29 15.44 18.01 23.15" y="0">131 ps</tspan></text>
<text font-size="9.11" fill="#1d5c1d" stroke="#1d5c1d" stroke-width="0.1" transform="translate(448.52 192.28) scale(1.0917 1)"><tspan x="0 5.01 7.52 12.53 15.03 22.71" y="0">8.8 mm</tspan></text>
<text font-size="9.11" fill="#5e2626" stroke="#5e2626" stroke-width="0.1" transform="translate(522.75 209.48) scale(1.0632 1)"><tspan x="0 5.15 10.29 15.44 18.01 23.15" y="0">136 ps</tspan></text>
<text font-size="9.11" fill="#5e2626" stroke="#5e2626" stroke-width="0.1" transform="translate(523.12 218.58) scale(1.0917 1)"><tspan x="0 5.01 7.52 12.53 15.03 22.71" y="0">8.3 mm</tspan></text>
<text font-size="9.11" fill="#2d2b5e" stroke="#2d2b5e" stroke-width="0.1" transform="translate(580.45 209.48) scale(1.0632 1)"><tspan x="0 5.15 10.29 15.44 18.01 23.15" y="0">138 ps</tspan></text>
<text font-size="9.11" fill="#2d2b5e" stroke="#2d2b5e" stroke-width="0.1" transform="translate(580.82 218.58) scale(1.0917 1)"><tspan x="0 5.01 7.52 12.53 15.03 22.71" y="0">8.6 mm</tspan></text>
<path d="M426 356.4v-4.0M484.33 356.4v-4.0M542.66 356.4v-4.0M600.99 356.4v-4.0M659.32 356.4v-4.0" stroke="#383838" stroke-width="1" fill="none"/><path d="M379.34 356.4v-2.2M391 356.4v-2.2M402.67 356.4v-2.2M414.33 356.4v-2.2M437.67 356.4v-2.2M449.33 356.4v-2.2M461 356.4v-2.2M472.66 356.4v-2.2M496 356.4v-2.2M507.66 356.4v-2.2M519.33 356.4v-2.2M530.99 356.4v-2.2M554.33 356.4v-2.2M565.99 356.4v-2.2M577.66 356.4v-2.2M589.32 356.4v-2.2M612.66 356.4v-2.2M624.32 356.4v-2.2M635.99 356.4v-2.2M647.65 356.4v-2.2M670.99 356.4v-2.2M682.65 356.4v-2.2M377.4 351.09h2.2M684.3 351.09h-2.2M377.4 332.61h2.2M684.3 332.61h-2.2M377.4 323.36h2.2M684.3 323.36h-2.2M377.4 314.12h2.2M684.3 314.12h-2.2M377.4 304.87h2.2M684.3 304.87h-2.2M377.4 286.39h2.2M684.3 286.39h-2.2M377.4 277.14h2.2M684.3 277.14h-2.2M377.4 267.9h2.2M684.3 267.9h-2.2M377.4 258.65h2.2M684.3 258.65h-2.2M377.4 240.17h2.2M684.3 240.17h-2.2M377.4 230.92h2.2M684.3 230.92h-2.2M377.4 221.68h2.2M684.3 221.68h-2.2M377.4 212.43h2.2M684.3 212.43h-2.2M377.4 193.95h2.2M684.3 193.95h-2.2M377.4 184.7h2.2M684.3 184.7h-2.2M377.4 175.46h2.2M684.3 175.46h-2.2M377.4 166.21h2.2M684.3 166.21h-2.2M377.4 147.73h2.2M684.3 147.73h-2.2M377.4 138.48h2.2M684.3 138.48h-2.2M377.4 129.24h2.2M684.3 129.24h-2.2M377.4 119.99h2.2M684.3 119.99h-2.2M377.4 101.51h2.2M684.3 101.51h-2.2M377.4 92.26h2.2M684.3 92.26h-2.2M377.4 83.02h2.2M684.3 83.02h-2.2M377.4 73.77h2.2M684.3 73.77h-2.2M377.4 55.29h2.2M684.3 55.29h-2.2M377.4 46.04h2.2M684.3 46.04h-2.2M377.4 36.8h2.2M684.3 36.8h-2.2" stroke="#383838" stroke-width="1" fill="none"/>
<path d="M684.3 341.85h-4.0M684.3 295.63h-4.0M684.3 249.41h-4.0M684.3 203.19h-4.0M684.3 156.97h-4.0M684.3 110.75h-4.0M684.3 64.53h-4.0" stroke="#383838" stroke-width="1" fill="none"/>
<path d="M464.8 32.3v4.0M538.8 32.3v4.0M596.4 32.3v4.0" stroke="#383838" stroke-width="1" fill="none"/>
<rect x="377.4" y="32.3" width="306.9" height="324.1" fill="none" stroke="#383838" stroke-width="1.1"/>
<text font-size="11.97" fill="#222222" stroke="#222222" stroke-width="0.25" transform="translate(411.37 371.18) scale(1.0796 1)"><tspan x="0 6.66 13.32 19.98" y="0">1500</tspan></text>
<text font-size="11.97" fill="#222222" stroke="#222222" stroke-width="0.25" transform="translate(469.7 371.18) scale(1.0796 1)"><tspan x="0 6.66 13.32 19.98" y="0">1600</tspan></text>
<text font-size="11.97" fill="#222222" stroke="#222222" stroke-width="0.25" transform="translate(528.03 371.18) scale(1.0796 1)"><tspan x="0 6.66 13.32 19.98" y="0">1700</tspan></text>
<text font-size="11.97" fill="#222222" stroke="#222222" stroke-width="0.25" transform="translate(586.36 371.18) scale(1.0796 1)"><tspan x="0 6.66 13.32 19.98" y="0">1800</tspan></text>
<text font-size="11.97" fill="#222222" stroke="#222222" stroke-width="0.25" transform="translate(644.69 371.18) scale(1.0796 1)"><tspan x="0 6.66 13.32 19.98" y="0">1900</tspan></text>
<text font-size="11.97" fill="#222222" stroke="#222222" stroke-width="0.25" transform="translate(451.97 24.94) scale(1.0797 1)"><tspan x="0 6.66 13.32 16.64" y="0">18.0</tspan></text>
<text font-size="11.97" fill="#222222" stroke="#222222" stroke-width="0.25" transform="translate(525.97 24.94) scale(1.0797 1)"><tspan x="0 6.66 13.32 16.64" y="0">10.0</tspan></text>
<text font-size="11.97" fill="#222222" stroke="#222222" stroke-width="0.25" transform="translate(587.51 24.94) scale(1.0797 1)"><tspan x="0 6.66 9.99" y="0">4.0</tspan></text>
<text font-size="13.35" fill="#222222" stroke="#222222" stroke-width="0.25" transform="translate(500.45 11.05) scale(1.0531 1)"><tspan x="0 9.21 18.63 22.16 25.96 29.99 33.8 45.45" y="0">DOI / mm</tspan></text>
<text font-size="13.35" fill="#222222" stroke="#222222" stroke-width="0.25" transform="translate(363.6 242.06) rotate(-90) scale(1.0981 1)"><tspan x="0 7.85 12.57 19.85 23.04 27.54 32.25 39.29 44 50.79 54.44 60.75 67.77 75.04 82.31" y="0">Arbitrary count</tspan></text>
<text font-size="13.35" fill="#222222" stroke="#222222" stroke-width="0.25" transform="translate(510.61 388.69) scale(1.0666 1)"><tspan x="0" y="0">Δ</tspan><tspan x="8.08" y="0" font-style="italic">t</tspan><tspan x="12.71 16.47 20.45 24.2 31.7" y="0"> / ps</tspan></text>
<text font-family="Liberation Serif" font-size="19.85" fill="#1a1a1a" stroke="#1a1a1a" stroke-width="0" transform="translate(185.33 416.87) scale(0.7647 1)">(</text>
<text font-family="Liberation Serif" font-size="17.12" fill="#1a1a1a" stroke="#1a1a1a" stroke-width="0.15" transform="translate(191.55 416.33) scale(1.2570 1)">a</text>
<text font-family="Liberation Serif" font-size="19.85" fill="#1a1a1a" stroke="#1a1a1a" stroke-width="0" transform="translate(201.68 416.87) scale(0.8235 1)">)</text>
<text font-family="Liberation Serif" font-size="19.85" fill="#1a1a1a" stroke="#1a1a1a" stroke-width="0" transform="translate(518.63 416.87) scale(0.7647 1)">(</text>
<text font-family="Liberation Serif" font-size="17.76" fill="#1a1a1a" stroke="#1a1a1a" stroke-width="0.1" transform="translate(525.3 416.32) scale(1.1337 1)">b</text>
<text font-family="Liberation Serif" font-size="19.85" fill="#1a1a1a" stroke="#1a1a1a" stroke-width="0" transform="translate(535.76 416.87) scale(0.8431 1)">)</text></svg></body></html>
